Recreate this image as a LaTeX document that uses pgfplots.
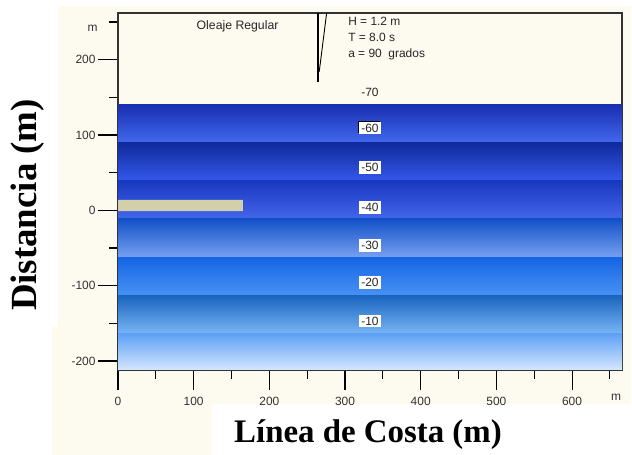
\documentclass[border=0pt]{standalone}
\usepackage{pgfplots}
\pgfplotsset{compat=1.18}
\usepackage{fontspec}
\setmainfont{Liberation Sans}
\newfontfamily\serifb{Liberation Serif}
\definecolor{cream}{RGB}{253,251,240}
\definecolor{groin}{RGB}{211,207,171}
\definecolor{aTop}{RGB}{24,46,176}\definecolor{aBot}{RGB}{66,104,238}
\definecolor{bTop}{RGB}{16,42,156}\definecolor{bBot}{RGB}{52,88,234}
\definecolor{cTop}{RGB}{24,56,192}\definecolor{cBot}{RGB}{68,102,234}
\definecolor{dTop}{RGB}{18,80,200}\definecolor{dBot}{RGB}{118,160,240}
\definecolor{eTop}{RGB}{20,100,228}\definecolor{eBot}{RGB}{72,146,244}
\definecolor{fTop}{RGB}{26,100,190}\definecolor{fBot}{RGB}{120,180,245}
\definecolor{gTop}{RGB}{92,160,245}\definecolor{gBot}{RGB}{216,232,255}
\tikzset{clab/.style={fill=white, inner sep=2bp, font=\fontsize{12}{14}\selectfont, text=black!85}}
\begin{document}
\begin{tikzpicture}
\fill[white] (0bp,0bp) rectangle (632bp,455bp);
\fill[cream] (52bp,0bp) rectangle (631bp,449bp);
\fill[white] (0bp,128bp) rectangle (58bp,455bp);
\fill[white] (212bp,0bp) rectangle (632bp,51bp);
\node[rotate=90, font={\serifb\bfseries\fontsize{37}{40}\selectfont}] at (28bp,250bp) {Distancia (m)};
\node[font={\serifb\bfseries\fontsize{33}{36}\selectfont}] at (368bp,20bp) {Línea de Costa (m)};
\begin{axis}[
  at={(118bp,85bp)}, anchor=south west,
  scale only axis, width=504bp, height=357bp,
  xmin=0, xmax=666, ymin=-212, ymax=262,
  axis background/.style={fill=cream},
  xtick={0,100,...,600}, minor xtick={50,150,...,650},
  ytick={-200,-100,0,100,200}, minor ytick={-150,-50,50,150,250},
  tick pos=left, tick align=outside,
  major tick length=20bp, minor tick length=9bp,
  every tick/.style={black, line width=1.1pt},
  axis line style={line width=1.3pt, black!80},
  ticklabel style={font=\fontsize{12}{14}\selectfont, text=black!80},
  /pgf/number format/assume math mode=true,
  xticklabel style={yshift=-4bp},
  yticklabel style={xshift=1bp},
  clip=true,
]
% depth bands
\addplot[draw=none, top color=aTop, bottom color=aBot] coordinates {(0,141) (666,141) (666,90) (0,90) (0,141)};
\addplot[draw=none, top color=bTop, bottom color=bBot] coordinates {(0,90) (666,90) (666,39) (0,39) (0,90)};
\addplot[draw=none, top color=cTop, bottom color=cBot] coordinates {(0,39) (666,39) (666,-11) (0,-11) (0,39)};
\addplot[draw=none, top color=dTop, bottom color=dBot] coordinates {(0,-11) (666,-11) (666,-62) (0,-62) (0,-11)};
\addplot[draw=none, top color=eTop, bottom color=eBot] coordinates {(0,-62) (666,-62) (666,-113) (0,-113) (0,-62)};
\addplot[draw=none, top color=fTop, bottom color=fBot] coordinates {(0,-113) (666,-113) (666,-163) (0,-163) (0,-113)};
\addplot[draw=none, top color=gTop, bottom color=gBot] coordinates {(0,-163) (666,-163) (666,-213) (0,-213) (0,-163)};
% groin
\addplot[draw=none, fill=groin] coordinates {(0,-1) (165,-1) (165,14) (0,14) (0,-1)};
% wave direction
\addplot[black, line width=1.5pt] coordinates {(264.6,262) (264.6,171)};
\addplot[black, line width=0.9pt] coordinates {(275.7,262) (265.9,184)};
% texts
\node[font=\fontsize{12.3}{14}\selectfont, text=black!85] at (axis cs:158,244) {Oleaje Regular};
\node[font=\fontsize{12}{16}\selectfont, text=black!85, align=left, anchor=north west, inner sep=0pt] at (axis cs:304,257) {H = 1.2 m\\T = 8.0 s\\a = 90 \ grados};
\node[font=\fontsize{12}{14}\selectfont, text=black!85] at (axis cs:333,156) {-70};
\node[fill=black, inner sep=2bp, font=\fontsize{12}{14}\selectfont, text=black] at (axis cs:331.6,110.3) {-60};
\node[clab] at (axis cs:333,109) {-60};
\node[clab] at (axis cs:333,57) {-50};
\node[clab] at (axis cs:333,4) {-40};
\node[clab] at (axis cs:333,-47) {-30};
\node[clab] at (axis cs:333,-96) {-20};
\node[clab] at (axis cs:333,-147) {-10};
\end{axis}
\node[font=\fontsize{12}{14}\selectfont, text=black!80, anchor=east] at (101bp,427bp) {m};
\node[font=\fontsize{12}{14}\selectfont, text=black!80] at (616bp,58bp) {m};
\end{tikzpicture}
\end{document}
